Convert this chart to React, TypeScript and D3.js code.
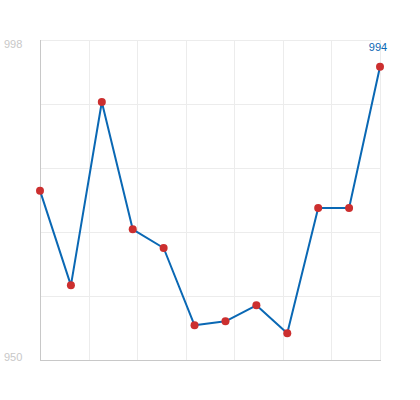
import React from "react";
import * as d3 from "d3";

const categories = ["1", "2", "3", "4", "5", "6", "7", "8", "9", "10", "11", "12"];
const values = [975.4, 961.2, 988.7, 969.6, 966.8, 955.2, 955.8, 958.2, 954.0, 972.8, 972.8, 994];
const yMin = 950;
const yMax = 998;
const yTickLabels = [950, 998];
const yGridCount = 5;
const xGridCount = 7;

export default function App() {
  const W = 420, H = 400;
  const left = 40, right = 380, top = 40, bottom = 360;
  const x = d3.scalePoint<string>().domain(categories).range([left, right]);
  const y = d3.scaleLinear().domain([yMin, yMax]).range([bottom, top]);
  const xg = d3.scaleLinear().domain([0, xGridCount]).range([left, right]);
  const line = d3.line<number>().x((_, i) => x(categories[i])!).y((d) => y(d));
  const yGrid = d3.range(yGridCount + 1).map((i) => yMin + ((yMax - yMin) * i) / yGridCount);
  const xGrid = d3.range(1, xGridCount + 1).map((i) => xg(i));
  const last = values.length - 1;
  return (
    <svg width={W} height={H} style={{ position: "absolute", left: 0, top: 0, background: "#fff" }}
      fontFamily="'Liberation Sans', Arial, sans-serif">
      {yGrid.map((v, i) => (
        <line key={"yg" + i} x1={left} x2={right} y1={Math.round(y(v)) + 0.5} y2={Math.round(y(v)) + 0.5} stroke="#ececec" strokeWidth={1} />
      ))}
      {xGrid.map((gx, i) => (
        <line key={"xg" + i} x1={Math.round(gx) + 0.5} x2={Math.round(gx) + 0.5} y1={top} y2={bottom} stroke="#ececec" strokeWidth={1} />
      ))}
      <line x1={left + 0.5} x2={left + 0.5} y1={top} y2={bottom + 0.5} stroke="#c8c8c8" strokeWidth={1} />
      <line x1={left} x2={right + 1} y1={bottom + 0.5} y2={bottom + 0.5} stroke="#c8c8c8" strokeWidth={1} />
      {yTickLabels.map((v) => (
        <text key={"yl" + v} x={4} y={v === yMax ? y(v) + 8 : y(v) + 1} fontSize={11} fill="#c8c8c8">{v}</text>
      ))}
      <path d={line(values)!} fill="none" stroke="#0a68b4" strokeWidth={2} strokeLinejoin="round" />
      {values.map((v, i) => (
        <circle key={"p" + i} cx={x(categories[i])} cy={y(v)} r={4} fill="#cc2f2f" />
      ))}
      <text x={x(categories[last])! - 2} y={y(values[last]) - 16} fontSize={11} fill="#0a68b4" textAnchor="middle">{values[last]}</text>
    </svg>
  );
}
